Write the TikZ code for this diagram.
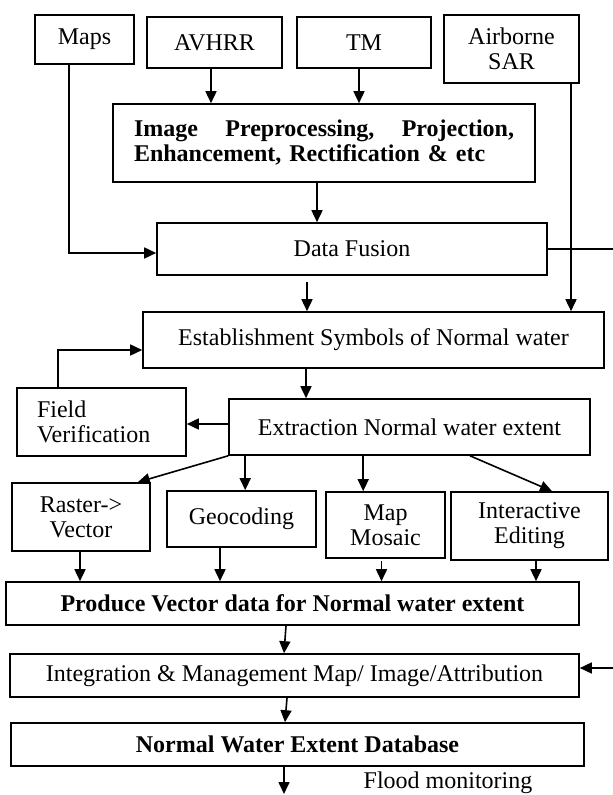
\documentclass[tikz,border=0pt]{standalone}
\usepackage{fontspec}
\setmainfont{Liberation Serif}
\usetikzlibrary{arrows.meta}

\begin{document}
\begin{tikzpicture}[x=0.5pt, y=-0.5pt,
    every node/.style={font=\fontsize{12}{12.5}\selectfont},
    box/.style={draw, line width=0.8pt, align=center, inner sep=0pt},
    arr/.style={line width=0.8pt, -{Triangle[length=6pt,width=5.5pt]}},
    link/.style={line width=0.8pt}]
    \useasboundingbox (0,0) rectangle (613,795);
    % sources
    \node[box, minimum width=49.5pt, minimum height=24.5pt] (maps) at (84.5,39.5) {Maps};
    \node[box, minimum width=67.5pt, minimum height=25.5pt] (avhrr) at (214.5,42.5) {AVHRR};
    \node[box, minimum width=67pt, minimum height=25.5pt] (tm) at (364,42.5) {TM};
    \node[box, minimum width=67.5pt, minimum height=34pt] (sar) at (511.5,49) {Airborne\\SAR};
    \node[box, minimum width=211pt, minimum height=39pt, text width=190pt, align=left] (prep) at (324,143)
        {\bfseries Image\hfill Preprocessing,\hfill Projection,\\Enhancement, Rectification \& etc};
    \node[box, minimum width=195pt, minimum height=26pt] (fusion) at (352,249) {Data Fusion};
    \node[box, minimum width=230.5pt, minimum height=28pt] (symbols) at (373.5,340) {Establishment Symbols of Normal water};
    \node[box, minimum width=84.5pt, minimum height=34pt, text width=64.5pt, align=left] (field) at (101.5,422) {Field\\Verification};
    \node[box, minimum width=180.5pt, minimum height=28pt] (extract) at (409.5,427) {Extraction Normal water extent};
    % processing steps
    \node[box, minimum width=69pt, minimum height=34pt] (raster) at (81,517) {Raster->\\Vector};
    \node[box, minimum width=74.5pt, minimum height=28pt] (geo) at (241.5,519) {Geocoding};
    \node[box, minimum width=59.5pt, minimum height=33pt] (mosaic) at (385.5,525) {Map\\Mosaic};
    \node[box, minimum width=78.5pt, minimum height=34pt] (edit) at (529.5,526) {Interactive\\Editing};
    \node[box, minimum width=286.5pt, minimum height=21.5pt] (vector) at (292.5,603.5) {\bfseries Produce Vector data for Normal water extent};
    \node[box, minimum width=284.5pt, minimum height=21.5pt] (integ) at (294.5,675.5) {Integration \& Management Map/ Image/Attribution};
    \node[box, minimum width=286.5pt, minimum height=21.5pt] (db) at (297.5,744.5) {\bfseries Normal Water Extent Database};
    \node[anchor=base, inner sep=0pt] (flood) at (448,788) {Flood monitoring};
    \coordinate (fusionout) at (613,249);
    \coordinate (integin) at (613,668);
    \coordinate (dbout) at (284,794);

    \draw[arr] ([xshift=-7.75pt]maps.south) |- ([yshift=-2pt]fusion.west);
    \draw[arr] ([xshift=-1.75pt]avhrr.south) -- ([xshift=-1.75pt]avhrr.south |- prep.north);
    \draw[arr] ([xshift=-2.5pt]tm.south) -- ([xshift=-2.5pt]tm.south |- prep.north);
    \draw[arr] ([xshift=-3.5pt]prep.south) -- ([xshift=-3.5pt]prep.south |- fusion.north);
    \draw[link] (fusion.east) -- (fusionout);
    \draw[arr] ([xshift=29.75pt]sar.south) -- ([xshift=29.75pt]sar.south |- symbols.north);
    \draw[arr] ([xshift=-22.5pt,yshift=-3pt]fusion.south) -- ([xshift=-22.5pt]fusion.south |- symbols.north);
    \draw[arr] ([xshift=-33.75pt]symbols.south) -- ([xshift=-33.75pt]symbols.south |- extract.north);
    \draw[arr] ([xshift=-21.75pt]field.north) |- ([yshift=-5pt]symbols.west);
    \draw[arr] ([yshift=1.5pt]extract.west) -- ([yshift=1.5pt]extract.west -| field.east);
    \draw[arr] (extract.south west) -- ([xshift=-6.5pt]raster.north east);
    \draw[arr] ([xshift=8.5pt]extract.south west) -- ([xshift=8.5pt]extract.south west |- geo.north);
    \draw[arr] ([xshift=67.5pt]extract.south west) -- ([xshift=67.5pt]extract.south west |- mosaic.north);
    \draw[arr] ([xshift=30.25pt]extract.south) -- ([xshift=11.25pt]edit.north);
    \draw[arr] ([xshift=-0.5pt]raster.south) -- ([xshift=-0.5pt]raster.south |- vector.north);
    \draw[arr] ([xshift=-10.75pt]geo.south) -- ([xshift=-10.75pt]geo.south |- vector.north);
    \draw[arr] ([xshift=-2pt,yshift=-1pt]mosaic.south) -- ([xshift=-2pt]mosaic.south |- vector.north);
    \draw[arr] ([xshift=3.25pt]edit.south) -- ([xshift=3.25pt]edit.south |- vector.north);
    \draw[arr] ([xshift=-3.25pt]vector.south) -- ([xshift=-5.25pt]integ.north);
    \draw[arr] (integin) -- (integin -| integ.east);
    \draw[arr] ([xshift=-3.75pt]integ.south) -- ([xshift=-6.25pt]db.north);
    \draw[arr] ([xshift=-6.75pt]db.south) -- (dbout);
\end{tikzpicture}
\end{document}
